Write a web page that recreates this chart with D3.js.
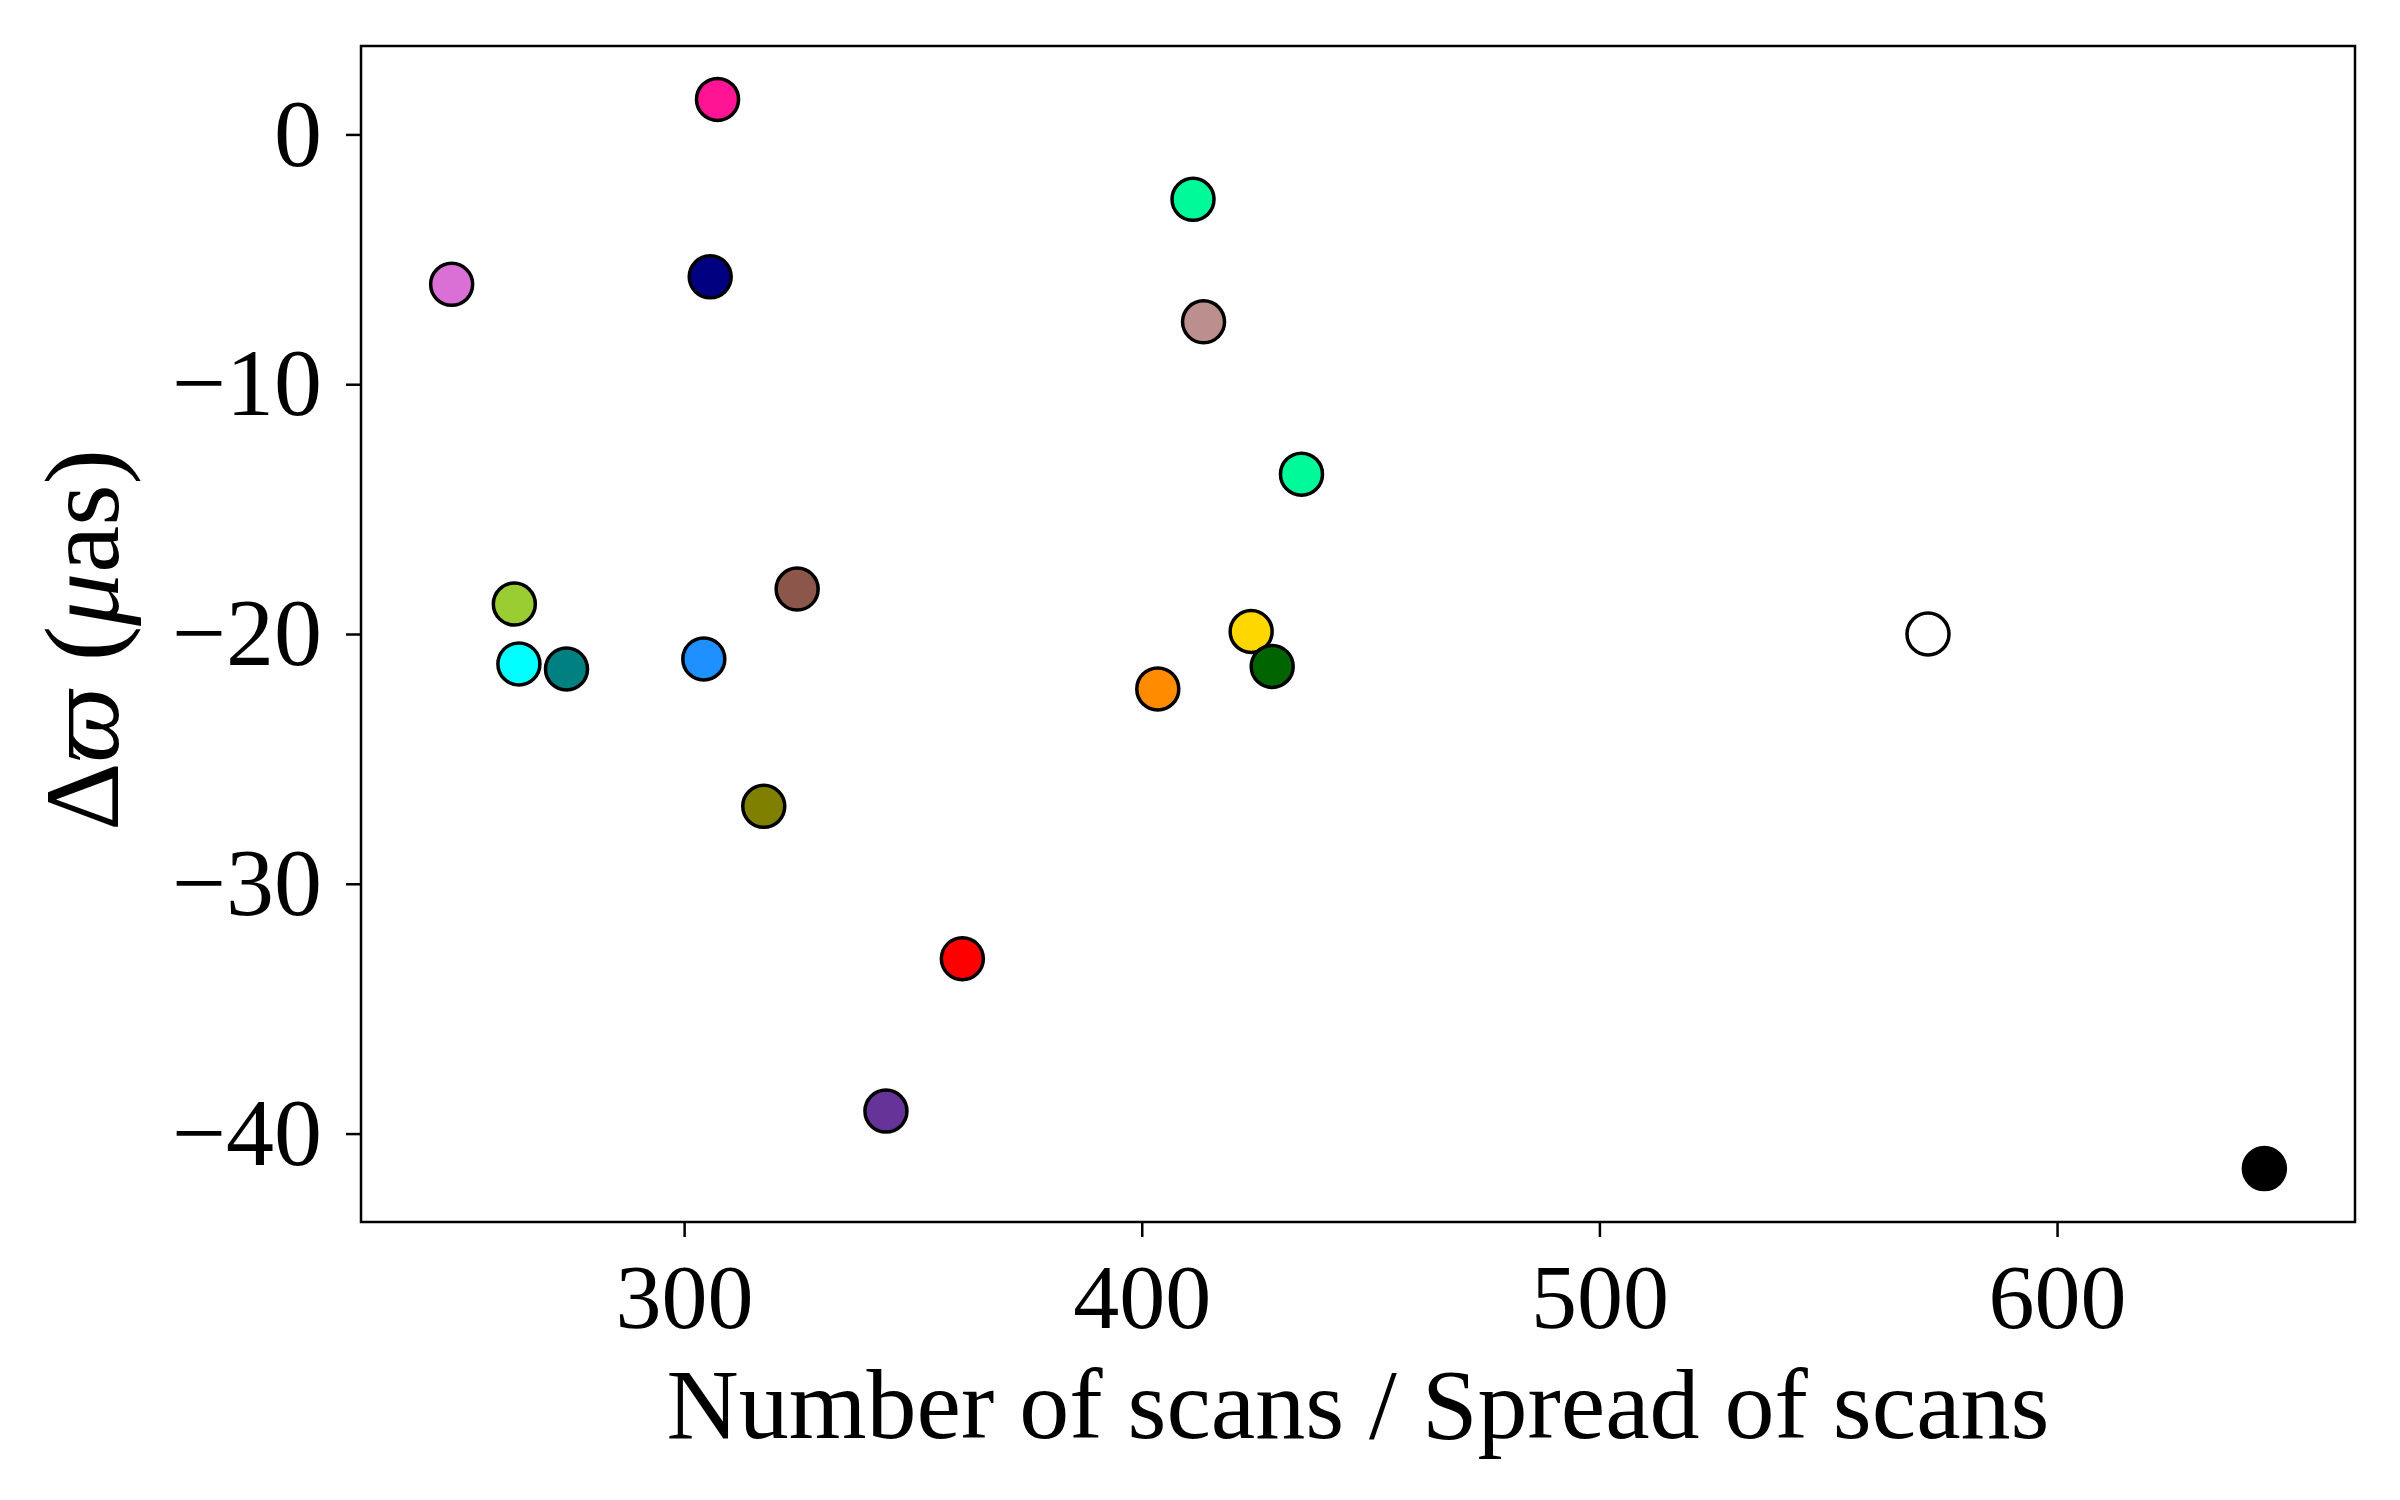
<!DOCTYPE html>
<html>
<head>
<meta charset="utf-8">
<script src="https://cdn.jsdelivr.net/npm/d3@7"></script>
<style>
  body { margin: 0; background: #fff; }
  svg { display: block; }
  text { font-family: "Liberation Serif", "DejaVu Serif", serif; fill: #000; }
</style>
</head>
<body>
<svg id="chart" width="2400" height="1500"></svg>
<script>
// Data
const scans = [249.2, 307.3, 305.7, 411.2, 413.5, 434.9, 262.9, 263.9, 274.3, 304.3, 324.7, 317.4, 360.8, 344.1, 403.5, 423.9, 428.5, 571.8, 645.3];
const deltaPlx = [-6.0, 1.4, -5.7, -2.6, -7.5, -13.6, -18.8, -21.2, -21.4, -21.0, -18.2, -26.9, -33.0, -39.1, -22.2, -19.9, -21.3, -20.0, -41.4];
const colors = ["#DA70D6", "#FF1493", "#000080", "#00FA9A", "#BC8F8F", "#00FA9A", "#9ACD32", "#00FFFF", "#008080", "#1E90FF", "#8C564B", "#808000", "#FF0000", "#663399", "#FF8C00", "#FFD700", "#006400", "#FFFFFF", "#000000"];
const xTicks = [300, 400, 500, 600];
const yTicks = [0, -10, -20, -30, -40];

const points = scans.map((x, i) => ({x, y: deltaPlx[i], c: colors[i]}));

const margin = {left: 361, right: 45, top: 46, bottom: 278};
const width = 2400, height = 1500;

const svg = d3.select("#chart");

// matplotlib style 5% padding around the data
const xPad = (d3.max(scans) - d3.min(scans)) * 0.05;
const yPad = (d3.max(deltaPlx) - d3.min(deltaPlx)) * 0.05;

const xScale = d3.scaleLinear()
  .domain([d3.min(scans) - xPad, d3.max(scans) + xPad])
  .range([margin.left, width - margin.right]);

const yScale = d3.scaleLinear()
  .domain([d3.min(deltaPlx) - yPad, d3.max(deltaPlx) + yPad])
  .range([height - margin.bottom, margin.top]);

// x axis
const xAxis = d3.axisBottom(xScale).tickValues(xTicks).tickSize(15).tickPadding(26).tickFormat(d3.format("d"));
const gx = svg.append("g")
  .attr("transform", `translate(0,${height - margin.bottom})`)
  .call(xAxis);

// y axis
const yAxis = d3.axisLeft(yScale).tickValues(yTicks).tickSize(15).tickPadding(24).tickFormat(d3.format("d"));
const gy = svg.append("g")
  .attr("transform", `translate(${margin.left},0)`)
  .call(yAxis);

[gx, gy].forEach(g => {
  g.select(".domain").remove();
  g.selectAll("line").attr("stroke", "#000").attr("stroke-width", 2.5);
  g.selectAll("text").attr("font-size", 92).attr("font-family", "Liberation Serif");
});
gx.selectAll("text").attr("dy", "0.71em");
gy.selectAll("text").attr("font-size", 96);

// Frame
svg.append("rect")
  .attr("x", margin.left)
  .attr("y", margin.top)
  .attr("width", width - margin.left - margin.right)
  .attr("height", height - margin.top - margin.bottom)
  .attr("fill", "none")
  .attr("stroke", "#000")
  .attr("stroke-width", 2.5);

// Points
svg.append("g")
  .selectAll("circle")
  .data(points)
  .enter()
  .append("circle")
  .attr("cx", d => xScale(d.x))
  .attr("cy", d => yScale(d.y))
  .attr("r", 21)
  .attr("fill", d => d.c)
  .attr("stroke", "#000")
  .attr("stroke-width", 3.5);

// Axis labels
svg.append("text")
  .attr("x", (margin.left + width - margin.right) / 2)
  .attr("y", 1438)
  .attr("text-anchor", "middle")
  .attr("font-size", 100)
  .text("Number of scans / Spread of scans");

const yLabel = svg.append("text")
  .attr("transform", `translate(118,${(margin.top + height - margin.bottom) / 2 + 6}) rotate(-90)`)
  .attr("text-anchor", "middle")
  .attr("font-size", 106);
yLabel.append("tspan").text("Δ");
yLabel.append("tspan").attr("font-style", "italic").text("ϖ");
yLabel.append("tspan").text(" (");
yLabel.append("tspan").attr("font-style", "italic").text("μ");
yLabel.append("tspan").text("as)");
</script>
</body>
</html>
